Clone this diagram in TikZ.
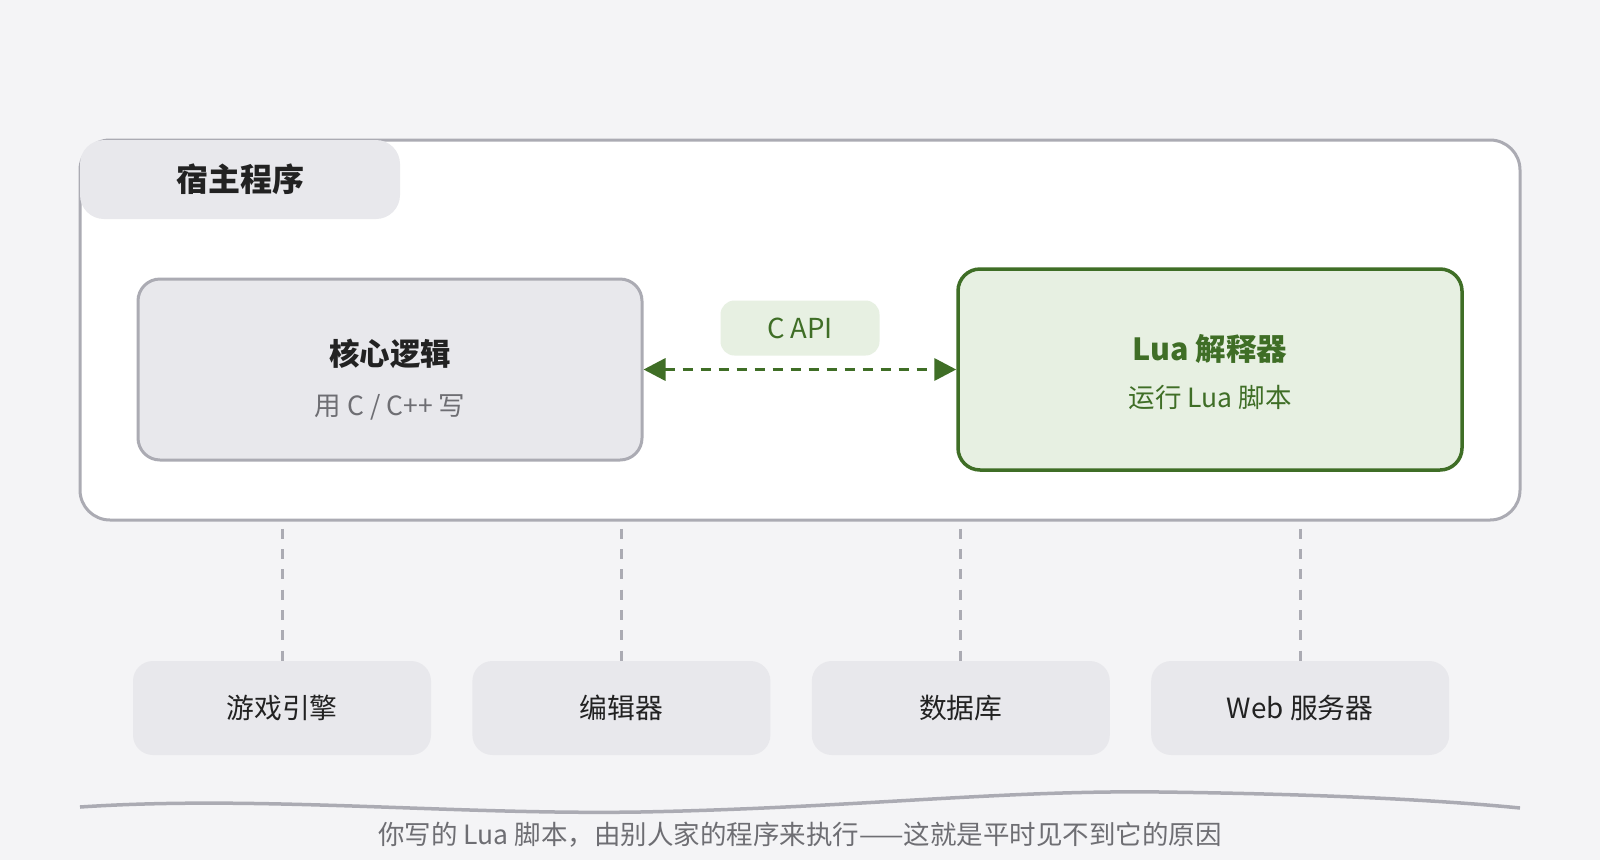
\documentclass[tikz,border=0pt]{standalone}
\usepackage{fontspec}
\setmainfont{Noto Sans CJK SC}
\usetikzlibrary{positioning,arrows.meta}

\definecolor{bgcol}{HTML}{F4F4F6}
\definecolor{edgegray}{HTML}{ABABB3}
\definecolor{boxgray}{HTML}{E8E8EC}
\definecolor{inkdark}{HTML}{222222}
\definecolor{inksub}{HTML}{6E6E73}
\definecolor{luagreen}{HTML}{3F6E26}
\definecolor{luafill}{HTML}{E7F0E2}

\tikzset{
  hostbox/.style = {draw=edgegray, line width=3pt, fill=white, rounded corners=30pt,
                    minimum width=1440pt, minimum height=380pt, inner sep=0pt},
  tabbox/.style  = {fill=boxgray, rounded corners=24pt, minimum width=320pt,
                    minimum height=79pt, inner sep=0pt, text=inkdark,
                    font=\fontsize{32}{38}\selectfont\bfseries},
  corebox/.style = {draw=edgegray, line width=3pt, fill=boxgray, rounded corners=22pt,
                    minimum width=504pt, minimum height=181pt, inner sep=0pt},
  luabox/.style  = {draw=luagreen, line width=3.5pt, fill=luafill, rounded corners=22pt,
                    minimum width=504pt, minimum height=201pt, inner sep=0pt},
  headtxt/.style = {inner sep=0pt, font=\fontsize{30.5}{36}\selectfont\bfseries},
  subtxt/.style  = {inner sep=0pt, font=\fontsize{26.5}{31}\selectfont},
  apitag/.style  = {fill=luafill, rounded corners=14pt, minimum width=159pt,
                    minimum height=55pt, inner sep=0pt, text=luagreen,
                    font=\fontsize{27.5}{32}\selectfont},
  api/.style     = {draw=luagreen, line width=3.5pt, dash pattern=on 10pt off 8pt,
                    {Triangle[length=22pt,width=22pt]}-{Triangle[length=22pt,width=22pt]}},
  userbox/.style = {fill=boxgray, rounded corners=20pt, minimum width=298pt,
                    minimum height=94pt, inner sep=0pt, text=inkdark,
                    font=\fontsize{27.8}{33}\selectfont},
  link/.style    = {draw=edgegray, line width=3pt, dash pattern=on 10pt off 10.3pt},
}

\begin{document}
\begin{tikzpicture}[x=1pt, y=-1pt]
  \fill[bgcol] (0,0) rectangle (1600,860);
  \useasboundingbox (0,0) rectangle (1600,860);

  \node[hostbox] (host) at (800,330) {};
  \node[tabbox] (tab) at (240,179.5) {宿主程序};

  \node[corebox] (core) at (390,369.5) {};
  \node[headtxt, text=inkdark] (coret) at ([yshift=16pt]core.center) {核心逻辑};
  \node[subtxt, text=inksub] (cores) at ([yshift=-38pt]core.center) {用 C / C++ 写};

  \node[luabox] (lua) at (1210,369.5) {};
  \node[headtxt, text=luagreen] (luat) at ([yshift=21pt]lua.center) {Lua 解释器};
  \node[subtxt, text=luagreen] (luas) at ([yshift=-28pt]lua.center) {运行 Lua 脚本};

  \node[apitag] (capi) at (800,328) {C API};
  \draw[api] (core.east) -- (lua.west);

  % programs that embed lua
  \node[userbox] (game) at (282,708) {游戏引擎};
  \node[userbox, right=41pt of game] (editor) {编辑器};
  \node[userbox, right=41pt of editor] (db) {数据库};
  \node[userbox, right=41pt of db] (web) {Web 服务器};

  \foreach \b in {game,editor,db,web} {
    \coordinate (\b-top) at ([yshift=132pt]\b.north);
    \draw[link] (\b-top) -- (\b.north);
  }

  \coordinate (wl) at (80,807);
  \coordinate (wr) at (1520,808);
  \draw[edgegray, line width=3.5pt] (wl) .. controls (260,795) and (450,815) .. (640,812)
    .. controls (850,808) and (1000,790) .. (1160,792)
    .. controls (1320,794) and (1440,800) .. (wr);

  \node[inner sep=0pt, text=inksub, font=\fontsize{26.5}{31}\selectfont] (note) at (800,835)
    {你写的 Lua 脚本，由别人家的程序来执行——这就是平时见不到它的原因};
\end{tikzpicture}
\end{document}
